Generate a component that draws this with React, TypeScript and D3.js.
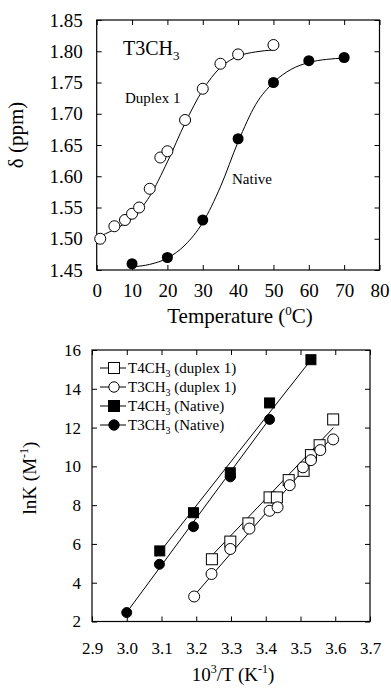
import React, { useEffect, useRef } from "react";
import * as d3 from "d3";

// top panel: methyl shift vs temperature
const duplexTemp = [1, 5, 8, 10, 12, 15, 18, 20, 25, 30, 35, 40, 50];
const duplexShift = [1.5, 1.52, 1.53, 1.54, 1.55, 1.58, 1.63, 1.64, 1.69, 1.74, 1.78, 1.795, 1.81];
const nativeTemp = [10, 20, 30, 40, 50, 60, 70];
const nativeShift = [1.46, 1.47, 1.53, 1.66, 1.75, 1.785, 1.79];
// fitted melting curves
const duplexFitTemp = [0, 5, 10, 15, 20, 25, 30, 35, 40, 45, 50];
const duplexFitShift = [1.502, 1.515, 1.533, 1.568, 1.623, 1.685, 1.738, 1.774, 1.792, 1.799, 1.802];
const nativeFitTemp = [10, 15, 20, 25, 30, 35, 40, 45, 50, 55, 60, 65, 70];
const nativeFitShift = [1.455, 1.459, 1.469, 1.49, 1.526, 1.583, 1.655, 1.715, 1.75, 1.771, 1.782, 1.787, 1.789];
const tempTicks = [0, 10, 20, 30, 40, 50, 60, 70, 80];
const shiftTicks = [1.45, 1.5, 1.55, 1.6, 1.65, 1.7, 1.75, 1.8, 1.85];

// bottom panel: van't Hoff plot
const t4DuplexX = [3.245, 3.298, 3.35, 3.411, 3.432, 3.466, 3.509, 3.53, 3.555, 3.594];
const t4DuplexY = [5.21, 6.12, 7.06, 8.4, 8.4, 9.29, 9.77, 10.58, 11.09, 12.42];
const t3DuplexX = [3.194, 3.244, 3.298, 3.353, 3.411, 3.434, 3.469, 3.507, 3.53, 3.557, 3.594];
const t3DuplexY = [3.29, 4.45, 5.74, 6.79, 7.71, 7.89, 9.03, 9.95, 10.32, 10.84, 11.39];
const t4NativeX = [3.095, 3.192, 3.298, 3.411, 3.53];
const t4NativeY = [5.64, 7.61, 9.67, 13.27, 15.5];
const t3NativeX = [3.0, 3.094, 3.192, 3.298, 3.411];
const t3NativeY = [2.46, 4.95, 6.89, 9.46, 12.42];
// straight fit lines (start / end)
const t4DuplexFitX = [3.245, 3.595];
const t4DuplexFitY = [5.4, 12.0];
const t3DuplexFitX = [3.185, 3.595];
const t3DuplexFitY = [3.15, 11.6];
const t4NativeFitX = [3.085, 3.535];
const t4NativeFitY = [5.35, 15.6];
const t3NativeFitX = [2.995, 3.415];
const t3NativeFitY = [2.35, 12.55];
const invTTicks = [2.9, 3.0, 3.1, 3.2, 3.3, 3.4, 3.5, 3.6, 3.7];
const lnKTicks = [2, 4, 6, 8, 10, 12, 14, 16];
const legendNames = ["T4CH", "T3CH", "T4CH", "T3CH"];
const legendTags = [" (duplex 1)", " (duplex 1)", " (Native)", " (Native)"];

const FONT = "Liberation Serif, DejaVu Serif, serif";

const App = () => {
  const svgRef = useRef<SVGSVGElement>(null);

  useEffect(() => {
    const svg = d3.select(svgRef.current);
    svg.selectAll("*").remove();

    const zip = (xs: number[], ys: number[]) => xs.map((x, i) => [x, ys[i]] as [number, number]);

    // frame with inward ticks on all four sides
    const frame = (x: any, y: any, xt: number[], yt: number[], xfmt: any, yfmt: any, xpad: number, ypad: number, fs: number) => {
      const [x0, x1] = x.range();
      const [y0, y1] = y.range();
      const g = svg.append("g");
      const style = (sel: any) => {
        sel.select(".domain").remove();
        sel.selectAll("line").attr("stroke", "#000").attr("stroke-width", 1);
        sel.selectAll("text").attr("fill", "#000")
          .style("font-family", FONT).style("font-size", `${fs}px`);
      };
      g.append("g").attr("transform", `translate(0,${y0})`)
        .call(d3.axisBottom(x).tickValues(xt).tickSize(-5).tickPadding(xpad).tickFormat(xfmt)).call(style);
      g.append("g").attr("transform", `translate(0,${y1})`)
        .call(d3.axisTop(x).tickValues(xt).tickSize(-5).tickFormat(() => "")).call(style);
      g.append("g").attr("transform", `translate(${x0},0)`)
        .call(d3.axisLeft(y).tickValues(yt).tickSize(-5).tickPadding(ypad).tickFormat(yfmt)).call(style);
      g.append("g").attr("transform", `translate(${x1},0)`)
        .call(d3.axisRight(y).tickValues(yt).tickSize(-5).tickFormat(() => "")).call(style);
      g.append("rect").attr("x", x0).attr("y", y1).attr("width", x1 - x0).attr("height", y0 - y1)
        .attr("fill", "none").attr("stroke", "#000").attr("stroke-width", 1.2);
    };

    const label = (x: number, y: number, fs: number) =>
      svg.append("text").attr("x", x).attr("y", y)
        .style("font-family", FONT).style("font-size", `${fs}px`);

    // ---------- top panel ----------
    const xT = d3.scaleLinear().domain([0, 80]).range([96.7, 379.5]);
    const yT = d3.scaleLinear().domain([1.45, 1.85]).range([270, 20]);
    frame(xT, yT, tempTicks, shiftTicks, d3.format("d"), d3.format(".2f"), 14, 14, 19);

    const curve = d3.line().x((d: any) => xT(d[0])).y((d: any) => yT(d[1])).curve(d3.curveMonotoneX);
    svg.append("path").attr("d", curve(zip(duplexFitTemp, duplexFitShift)))
      .attr("fill", "none").attr("stroke", "#000").attr("stroke-width", 1);
    svg.append("path").attr("d", curve(zip(nativeFitTemp, nativeFitShift)))
      .attr("fill", "none").attr("stroke", "#000").attr("stroke-width", 1);

    svg.append("g").selectAll("circle").data(zip(duplexTemp, duplexShift)).join("circle")
      .attr("cx", d => xT(d[0])).attr("cy", d => yT(d[1])).attr("r", 5.5)
      .attr("fill", "#fff").attr("stroke", "#000").attr("stroke-width", 1);
    svg.append("g").selectAll("circle").data(zip(nativeTemp, nativeShift)).join("circle")
      .attr("cx", d => xT(d[0])).attr("cy", d => yT(d[1])).attr("r", 5.5).attr("fill", "#000");

    const title = label(123, 55, 20);
    title.append("tspan").text("T3CH");
    title.append("tspan").attr("dy", 5).style("font-size", "13px").text("3");
    label(125, 103, 15).text("Duplex 1");
    label(232, 184, 15).text("Native");

    const xlab = label(240, 323, 21).attr("text-anchor", "middle");
    xlab.append("tspan").text("Temperature (");
    xlab.append("tspan").attr("dy", -8).style("font-size", "13px").text("0");
    xlab.append("tspan").attr("dy", 8).text("C)");

    label(0, 0, 21).attr("transform", "translate(23,135) rotate(-90)").attr("text-anchor", "middle")
      .text("δ (ppm)");

    // ---------- bottom panel ----------
    const xB = d3.scaleLinear().domain([2.9, 3.7]).range([92, 370]);
    const yB = d3.scaleLinear().domain([2, 16]).range([621.5, 350]);
    frame(xB, yB, invTTicks, lnKTicks, d3.format(".1f"), d3.format("d"), 20, 11, 17);

    const seg = d3.line().x((d: any) => xB(d[0])).y((d: any) => yB(d[1]));
    [[t4DuplexFitX, t4DuplexFitY], [t3DuplexFitX, t3DuplexFitY], [t4NativeFitX, t4NativeFitY], [t3NativeFitX, t3NativeFitY]]
      .forEach(([xs, ys]) => {
        svg.append("path").attr("d", seg(zip(xs, ys)))
          .attr("fill", "none").attr("stroke", "#000").attr("stroke-width", 1);
      });

    const squares = (pts: [number, number][], fill: string, s: number) =>
      svg.append("g").selectAll("rect").data(pts).join("rect")
        .attr("x", d => xB(d[0]) - s / 2).attr("y", d => yB(d[1]) - s / 2)
        .attr("width", s).attr("height", s).attr("fill", fill).attr("stroke", "#000").attr("stroke-width", 1);
    const circles = (pts: [number, number][], fill: string, r: number) =>
      svg.append("g").selectAll("circle").data(pts).join("circle")
        .attr("cx", d => xB(d[0])).attr("cy", d => yB(d[1])).attr("r", r)
        .attr("fill", fill).attr("stroke", "#000").attr("stroke-width", 1);

    squares(zip(t4DuplexX, t4DuplexY), "#fff", 11);
    circles(zip(t3DuplexX, t3DuplexY), "#fff", 5.5);
    squares(zip(t4NativeX, t4NativeY), "#000", 10);
    circles(zip(t3NativeX, t3NativeY), "#000", 5);

    // legend
    const rowY = d3.scaleLinear().domain([0, 3]).range([368, 425]);
    legendNames.forEach((name, i) => {
      const cy = rowY(i);
      svg.append("line").attr("x1", 100).attr("x2", 126).attr("y1", cy).attr("y2", cy)
        .attr("stroke", "#000").attr("stroke-width", 1);
      const filled = i >= 2 ? "#000" : "#fff";
      if (i % 2 === 0) {
        svg.append("rect").attr("x", 114 - 5.5).attr("y", cy - 5.5).attr("width", 11).attr("height", 11)
          .attr("fill", filled).attr("stroke", "#000");
      } else {
        svg.append("circle").attr("cx", 114).attr("cy", cy).attr("r", 5.2).attr("fill", filled).attr("stroke", "#000");
      }
      const t = label(128, cy + 5, 15);
      t.append("tspan").text(name);
      t.append("tspan").attr("dy", 4).style("font-size", "10px").text("3");
      t.append("tspan").attr("dy", -4).text(legendTags[i]);
    });

    const xlab2 = label(233, 681, 19).attr("text-anchor", "middle");
    xlab2.append("tspan").text("10");
    xlab2.append("tspan").attr("dy", -8).style("font-size", "12px").text("3");
    xlab2.append("tspan").attr("dy", 8).text("/T (K");
    xlab2.append("tspan").attr("dy", -8).style("font-size", "12px").text("-1");
    xlab2.append("tspan").attr("dy", 8).text(")");

    const ylab2 = label(0, 0, 19).attr("transform", "translate(36,478) rotate(-90)").attr("text-anchor", "middle");
    ylab2.append("tspan").text("lnK (M");
    ylab2.append("tspan").attr("dy", -8).style("font-size", "12px").text("-1");
    ylab2.append("tspan").attr("dy", 8).text(")");
  }, []);

  return (
    <svg ref={svgRef} width={391} height={688}
      style={{ position: "absolute", left: 0, top: 0, background: "#fff" }} />
  );
};

export default App;
